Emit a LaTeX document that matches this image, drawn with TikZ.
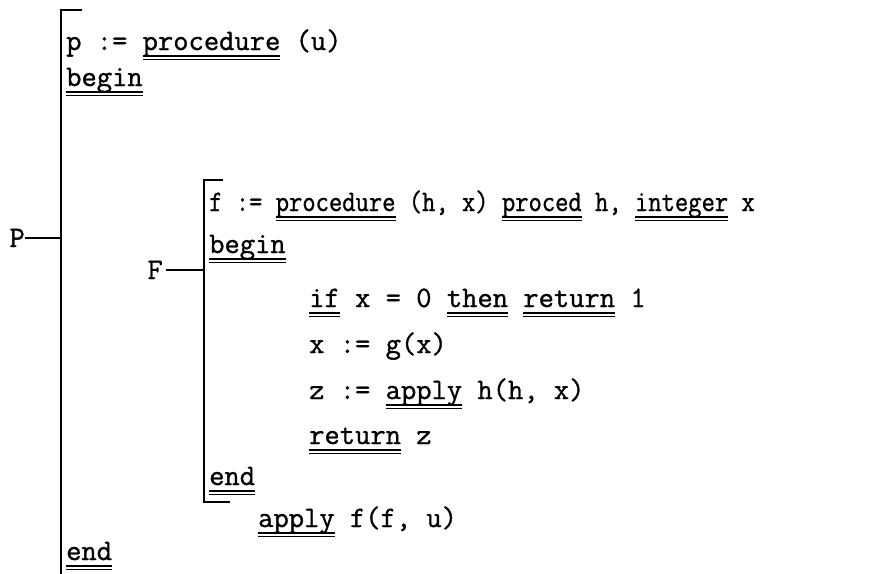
\documentclass[tikz,border=0pt]{standalone}
\usepackage{fontspec}
\newfontfamily\tw{Latin Modern Mono}[FakeBold=1.1]
\newcommand\kw[1]{\setbox0=\hbox{#1}\rlap{\rule[-6.8pt]{\wd0}{1.5pt}}\rlap{\rule[-10.3pt]{\wd0}{1.6pt}}\box0\relax}
\begin{document}
\frenchspacing
\begin{tikzpicture}[x=1pt,y=-1pt,
  code/.style={anchor=base west, inner sep=0pt, font=\tw\fontsize{29.7}{36}\selectfont},
  lbl/.style={anchor=base east, inner sep=0pt, font=\tw\fontsize{29.7}{36}\selectfont},
  brk/.style={line width=2.2pt, line cap=rect},
  stub/.style={line width=1.8pt}]
\useasboundingbox (0,0) rectangle (874,573);
% outer bracket
\coordinate (Otick) at (81,10);
\coordinate (Otop) at (61,10);
\coordinate (Obot) at (61,573);
\draw[brk] (Otick) -- (Otop) -- (Obot);
% inner bracket
\coordinate (Itick) at (222,180);
\coordinate (Itop) at (204,180);
\coordinate (Ibot) at (204,502);
\coordinate (Ibtick) at (229,502);
\draw[brk] (Itick) -- (Itop) -- (Ibot) -- (Ibtick);
% labels
\node[lbl] (P) at (25,247) {P};
\draw[stub] (P.east) -- (P.east -| Otop);
\node[lbl] (F) at (163,279) {F};
\draw[stub] ([xshift=3pt]F.east) -- (F.east -| Itop);
% code
\node[code] (l1) at (66,50) {p := \kw{procedure} (u)};
\node[code] (l2) at (66,86) {\kw{begin}};
\node[code] (l3) at (209,211) {\scalebox{0.87}[1]{f := \kw{procedure} (h, x) \kw{proced} h, \kw{integer} x}};
\node[code] (l4) at (209,253) {\kw{begin}};
\node[code] (l5) at (309,307) {\kw{if} x = 0 \kw{then} \kw{return} 1};
\node[code] (l6) at (309,353) {x := g(x)};
\node[code] (l7) at (309,399) {z := \kw{apply} h(h, x)};
\node[code] (l8) at (309,444) {\kw{return} z};
\node[code] (l9) at (209,485) {\kw{end}};
\node[code] (l10) at (258,527) {\kw{apply} f(f, u)};
\node[code] (l11) at (66,560) {\kw{end}};
\end{tikzpicture}
\end{document}
